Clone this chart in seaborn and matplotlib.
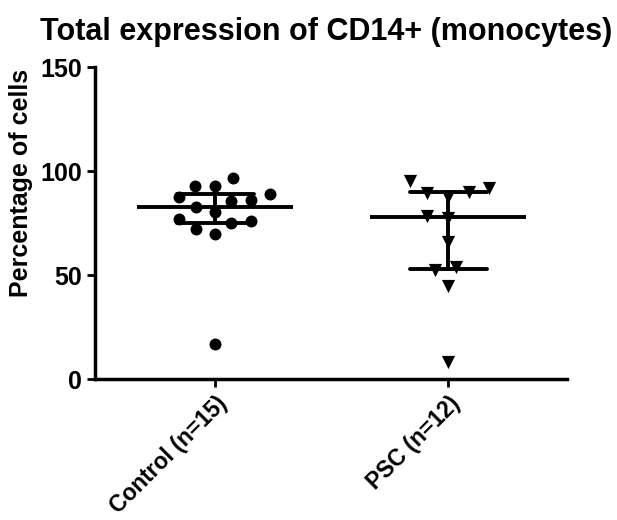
import matplotlib
matplotlib.use("Agg")
import matplotlib.pyplot as plt
import seaborn as sns
import numpy as np
import pandas as pd

# values (percentage of CD14+ cells)
groups = ["Control (n=15)", "PSC (n=12)"]
control = [96.5, 92.8, 92.8, 87.3, 88.9, 85.7, 86.0, 80.4, 82.5, 76.0, 74.9, 76.9, 72.0, 69.7, 16.8]
psc = [95.3, 90.0, 87.6, 89.6, 91.7, 78.5, 77.5, 66.0, 52.4, 54.0, 44.7, 8.3]

df = pd.DataFrame({
    "group": [groups[0]] * len(control) + [groups[1]] * len(psc),
    "value": control + psc,
})

sns.set_style("ticks")
plt.rcParams["font.family"] = ["Liberation Sans", "DejaVu Sans"]
plt.rcParams["font.weight"] = "bold"
plt.rcParams["text.color"] = "black"
plt.rcParams["axes.labelcolor"] = "black"

fig = plt.figure(figsize=(6.17, 5.2), dpi=100)
ax = fig.add_axes([0.154, 0.271, 0.765, 0.60])


def iqr(x):
    # prism style quartiles
    return (np.percentile(x, 25, method="weibull"), np.percentile(x, 75, method="weibull"))


# median with interquartile range
sns.pointplot(data=df, x="group", y="value", order=groups, estimator=np.median,
              errorbar=iqr, capsize=0.33, linestyle="none", marker="_",
              markersize=112, markeredgewidth=2.8, color="black",
              err_kws={"linewidth": 2.8}, ax=ax)

# transparent edge just to spread the swarm a bit wider (like prism)
sns.swarmplot(data=df[df.group == groups[0]], x="group", y="value", order=groups,
              color="black", size=8.6, marker="o", linewidth=5,
              edgecolor=(0, 0, 0, 0), ax=ax)
sns.swarmplot(data=df[df.group == groups[1]], x="group", y="value", order=groups,
              color="black", size=9.5, marker="v", linewidth=5,
              edgecolor=(0, 0, 0, 0), ax=ax)

ax.set_xlim(-0.515, 1.51)
ax.set_ylim(0, 150)
ax.set_yticks([0, 50, 100, 150])
ax.set_xlabel("")
ax.set_ylabel("Percentage of cells", fontsize=18, fontweight="bold")
ax.yaxis.set_label_coords(-0.131, 0.63)
ax.set_title("Total expression of CD14+ (monocytes)", fontsize=22, fontweight="bold",
             x=0.49, y=1.06, color="black")
plt.setp(ax.get_xticklabels(), rotation=45, ha="right", rotation_mode="anchor",
         fontsize=16.5, fontweight="bold")
plt.setp(ax.get_yticklabels(), fontsize=18, fontweight="bold")
ax.tick_params(width=2, length=6, colors="black")
for s in ["left", "bottom"]:
    ax.spines[s].set_linewidth(2.5)
    ax.spines[s].set_color("black")
sns.despine(ax=ax)

fig.savefig("out.png", dpi=100)
